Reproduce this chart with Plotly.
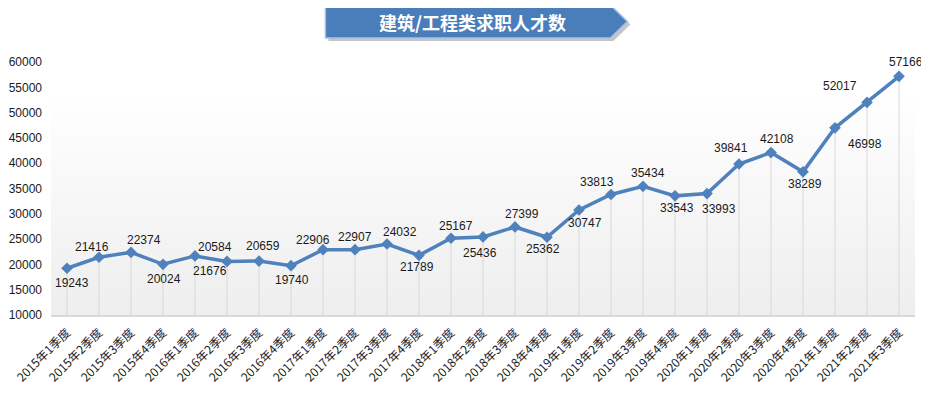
import base64
import plotly.graph_objects as go

categories = [
    "2015年1季度", "2015年2季度", "2015年3季度", "2015年4季度",
    "2016年1季度", "2016年2季度", "2016年3季度", "2016年4季度",
    "2017年1季度", "2017年2季度", "2017年3季度", "2017年4季度",
    "2018年1季度", "2018年2季度", "2018年3季度", "2018年4季度",
    "2019年1季度", "2019年2季度", "2019年3季度", "2019年4季度",
    "2020年1季度", "2020年2季度", "2020年3季度", "2020年4季度",
    "2021年1季度", "2021年2季度", "2021年3季度",
]
values = [
    19243, 21416, 22374, 20024,
    21676, 20584, 20659, 19740,
    22906, 22907, 24032, 21789,
    25167, 25436, 27399, 25362,
    30747, 33813, 35434, 33543,
    33993, 39841, 42108, 38289,
    46998, 52017, 57166,
]
# data-label offsets from their point, in screen pixels (x right, y down)
label_dx = [5, -7, 13, 1, 15, -12, 4, 1, -10, 0, 13, -2, 5, -3, 7, -4,
            6, -14, 5, 2, 12, -8, 6, 2, 30, -27, 7]
label_dy = [15, -10, -12, 15, 15, -14, -15, 14, -10, -13, -12, 12, -12, 16, -13, 12,
            13, -13, -13, 12, 15, -16, -14, 12, 16, -16, -14]
title_text = "建筑/工程类求职人才数"
y_min, y_max, y_step = 10000, 60000, 5000

# the page body adds an 8px margin, so the figure is drawn 8px smaller
OFF = 8
W, H = 929 - OFF, 393 - OFF
ML, MR, MT, MB = 50.6 - OFF, 14.4, 62 - OFF, 78
PW, PH = W - ML - MR, H - MT - MB


def px_x(x):  # window pixel -> paper
    return (x - OFF - ML) / PW


def px_y(y):
    return (H - MB - (y - OFF)) / PH


LINE = "#4f81bd"

fig = go.Figure()

# drop lines (from each point down to the axis floor)
fig.add_trace(go.Scatter(
    x=categories, y=values, mode="markers",
    marker=dict(size=0.1, color="rgba(0,0,0,0)"),
    error_y=dict(type="data", symmetric=False,
                 array=[0] * len(values),
                 arrayminus=[v - y_min for v in values],
                 color="#d9d9d9", thickness=1, width=0),
    hoverinfo="skip", showlegend=False,
))

fig.add_trace(go.Scatter(
    x=categories, y=values, mode="lines+markers",
    line=dict(color=LINE, width=3.5),
    marker=dict(symbol="diamond", size=9, color=LINE),
    showlegend=False, cliponaxis=False,
))

svg = ('<svg xmlns="http://www.w3.org/2000/svg" width="10" height="100" '
       'preserveAspectRatio="none"><defs><linearGradient id="g" x1="0" y1="0" '
       'x2="0" y2="1"><stop offset="0" stop-color="#ffffff"/>'
       '<stop offset="1" stop-color="#eeeeee"/></linearGradient></defs>'
       '<rect width="10" height="100" fill="url(#g)"/></svg>')
src = "data:image/svg+xml;base64," + base64.b64encode(svg.encode()).decode()


def banner_path(dx=0, dy=0):
    l, r, tip, t, b = 325 + dx, 610 + dx, 627 + dx, 5 + dy, 38 + dy
    m = (t + b) / 2
    pts = [(l, t), (r, t), (tip, m), (r, b), (l, b)]
    return "M " + " L ".join(f"{px_x(x):.5f},{px_y(y):.5f}" for x, y in pts) + " Z"


shapes = [
    dict(type="path", xref="paper", yref="paper", path=banner_path(3, 3),
         fillcolor="rgba(90,90,90,0.35)", line=dict(width=0), layer="above"),
    dict(type="path", xref="paper", yref="paper", path=banner_path(),
         fillcolor="#4a7ebb", line=dict(color="#a9c1e0", width=1.5), layer="above"),
]

annotations = [dict(text=f"<b>{title_text}</b>", x=px_x(472), y=px_y(21.5),
                    xref="paper", yref="paper", showarrow=False,
                    xanchor="center", yanchor="middle",
                    font=dict(family="Noto Sans CJK SC", size=18, color="white"))]
for c, v, dx, dy in zip(categories, values, label_dx, label_dy):
    annotations.append(dict(
        x=c, y=v, xref="x", yref="y", text=str(v), showarrow=False,
        xanchor="center", yanchor="middle", xshift=dx, yshift=-dy,
        font=dict(family="Liberation Sans, Arial", size=12, color="#1a1a1a"),
    ))

fig.update_layout(
    template="none",
    width=W, height=H,
    margin=dict(l=ML, r=MR, t=MT, b=MB, pad=0),
    paper_bgcolor="white", plot_bgcolor="rgba(0,0,0,0)",
    images=[dict(source=src, xref="paper", yref="paper", x=0, y=px_y(92),
                 sizex=1, sizey=px_y(92), xanchor="left", yanchor="top",
                 sizing="stretch", layer="below")],
    shapes=shapes,
    annotations=annotations,
    xaxis=dict(type="category", range=[-0.5, len(categories) - 0.5],
               automargin=False,
               showgrid=False, zeroline=False, showline=True,
               linecolor="#d9d9d9", linewidth=1.5, ticks="", tickangle=-45,
               ticklabelstandoff=4,
               tickfont=dict(family="Noto Sans CJK SC", size=12, color="#1a1a1a")),
    yaxis=dict(range=[y_min, y_max], dtick=y_step, tick0=y_min, tickformat="d",
               automargin=False,
               showgrid=False, zeroline=False, showline=False, ticks="",
               ticklabelstandoff=8,
               tickfont=dict(family="Liberation Sans, Arial", size=12, color="#1a1a1a")),
)

fig.write_html("out.html")
